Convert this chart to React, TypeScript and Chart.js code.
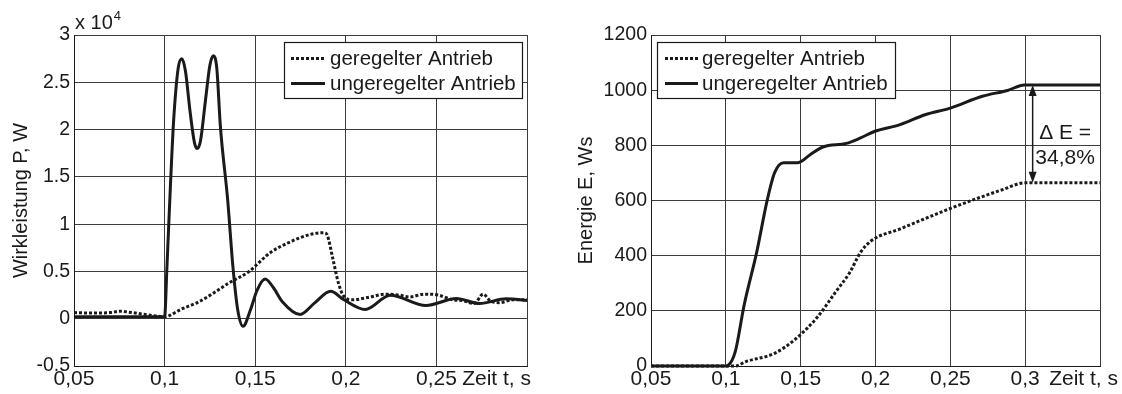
import React, { useEffect, useRef } from "react";
import { Chart, registerables } from "chart.js";

Chart.register(...registerables);

const FONT = '"Liberation Sans", Arial, Helvetica, sans-serif';
const INK = "#1a1a1a";
const GRID = "#3c3c3c";
const X_TICK_SIZE = 21;
const Y_TICK_SIZE = 19.5;
const NOTE_SIZE = 21;

// ---------- Data: left chart (Wirkleistung, x 10^4 W) ----------
const powerTimeRegulated = [0.05, 0.06, 0.07, 0.0756, 0.08, 0.0875, 0.095, 0.1, 0.1022, 0.1091, 0.118, 0.1269, 0.1348, 0.1466, 0.1584, 0.1702, 0.1801, 0.188, 0.1896, 0.1929, 0.1959, 0.1988, 0.2037, 0.2136, 0.2215, 0.2294, 0.2353, 0.2432, 0.2511, 0.259, 0.2649, 0.2708, 0.2758, 0.2797, 0.2846, 0.2925, 0.3];
const powerRegulated = [0.065, 0.06, 0.065, 0.08, 0.07, 0.05, 0.03, 0.02, 0.03, 0.1, 0.17, 0.27, 0.37, 0.5, 0.7, 0.82, 0.89, 0.91, 0.89, 0.63, 0.38, 0.24, 0.2, 0.23, 0.26, 0.25, 0.23, 0.26, 0.25, 0.2, 0.19, 0.16, 0.26, 0.19, 0.17, 0.2, 0.2];

const powerTimeUnregulated = [0.05, 0.07, 0.09, 0.1, 0.1013, 0.1032, 0.105, 0.1075, 0.1095, 0.1115, 0.114, 0.1165, 0.118, 0.1198, 0.1225, 0.125, 0.1269, 0.1288, 0.1308, 0.1348, 0.1377, 0.1403, 0.1433, 0.1475, 0.151, 0.1555, 0.16, 0.165, 0.1748, 0.183, 0.1916, 0.199, 0.2107, 0.2245, 0.2442, 0.261, 0.2738, 0.2886, 0.3];
const powerUnregulated = [0.02, 0.02, 0.02, 0.02, 0.55, 1.4, 2.1, 2.65, 2.75, 2.62, 2.2, 1.86, 1.8, 1.88, 2.3, 2.68, 2.78, 2.65, 2.03, 1.26, 0.55, 0.1, -0.08, 0.1, 0.3, 0.42, 0.33, 0.18, 0.045, 0.17, 0.29, 0.2, 0.098, 0.249, 0.14, 0.214, 0.161, 0.21, 0.193];

// ---------- Data: right chart (Energie, Ws) ----------
const energyTimeRegulated = [0.05, 0.1, 0.1063, 0.1134, 0.1326, 0.147, 0.1613, 0.1733, 0.1829, 0.19, 0.1972, 0.2164, 0.2499, 0.2667, 0.2858, 0.2995, 0.35];
const energyRegulated = [0, 0, 0, 16, 46, 100, 178, 268, 340, 412, 454, 497, 571, 605, 641, 664, 664];

const energyTimeUnregulated = [0.05, 0.08, 0.1, 0.1015, 0.1063, 0.1122, 0.1206, 0.1278, 0.1326, 0.1386, 0.1482, 0.1565, 0.1649, 0.1805, 0.19, 0.1996, 0.2164, 0.2331, 0.2499, 0.2714, 0.2882, 0.2995, 0.35];
const energyUnregulated = [0, 0, 0, 2, 52, 220, 412, 605, 701, 737, 737, 767, 794, 807, 827, 851, 875, 911, 935, 978, 999, 1019, 1019];

// ---------- Labels & ticks ----------
const seriesLabels = ["geregelter Antrieb", "ungeregelter Antrieb"];
const xUnitLabel = "Zeit t, s";
const powerAxisTitle = "Wirkleistung P, W";
const energyAxisTitle = "Energie E, Ws";
const powerExponent = ["x 10", "4"];

const powerXTicks = [0.05, 0.1, 0.15, 0.2, 0.25, 0.3];
const powerXTickLabels = ["0,05", "0,1", "0,15", "0,2", "0,25", ""];
const powerYTicks = [-0.5, 0, 0.5, 1, 1.5, 2, 2.5, 3];
const powerYTickLabels = ["-0.5", "0", "0.5", "1", "1.5", "2", "2.5", "3"];

const energyXTicks = [0.05, 0.1, 0.15, 0.2, 0.25, 0.3, 0.35];
const energyXTickLabels = ["0,05", "0,1", "0,15", "0,2", "0,25", "0,3", ""];
const energyYTicks = [0, 200, 400, 600, 800, 1000, 1200];
const energyYTickLabels = ["0", "200", "400", "600", "800", "1000", "1200"];

const deltaLabels = ["\u0394 E =", "34,8%"];
const deltaArrowTime = 0.305;
const deltaLabelTime = 0.3267;
const deltaLabelEnergy = [845, 754];

const zip = (xs: number[], ys: number[]) => xs.map((x, i) => ({ x, y: ys[i] }));

const decorPlugin = {
  id: "decor",
  afterDatasetsDraw(chart: any, _args: any, opts: any) {
    const { ctx, chartArea: ca } = chart;
    const xs = chart.scales.x;
    const ys = chart.scales.y;
    ctx.save();

    // Delta-E annotation
    if (opts.delta) {
      const px = xs.getPixelForValue(opts.delta.t);
      const yTop = ys.getPixelForValue(opts.delta.top);
      const yBot = ys.getPixelForValue(opts.delta.bottom);
      const hl = 11;
      const hw = 4;
      ctx.strokeStyle = INK;
      ctx.fillStyle = INK;
      ctx.lineWidth = 1.5;
      ctx.setLineDash([]);
      ctx.beginPath();
      ctx.moveTo(px, yTop + hl - 2);
      ctx.lineTo(px, yBot - hl + 2);
      ctx.stroke();
      ctx.beginPath();
      ctx.moveTo(px, yTop);
      ctx.lineTo(px - hw, yTop + hl);
      ctx.lineTo(px + hw, yTop + hl);
      ctx.closePath();
      ctx.fill();
      ctx.beginPath();
      ctx.moveTo(px, yBot);
      ctx.lineTo(px - hw, yBot - hl);
      ctx.lineTo(px + hw, yBot - hl);
      ctx.closePath();
      ctx.fill();
      ctx.font = `${NOTE_SIZE}px ${FONT}`;
      ctx.textAlign = "center";
      ctx.textBaseline = "middle";
      const lx = xs.getPixelForValue(opts.delta.labelT);
      opts.delta.labels.forEach((t: string, i: number) => {
        ctx.fillText(t, lx, ys.getPixelForValue(opts.delta.labelE[i]));
      });
    }

    // Legend box
    const L = opts.legend;
    if (L) {
      ctx.fillStyle = "#fff";
      ctx.fillRect(L.x, L.y, L.w, L.h);
      ctx.strokeStyle = INK;
      ctx.lineWidth = 1.2;
      ctx.setLineDash([]);
      ctx.strokeRect(L.x + 0.5, L.y + 0.5, L.w, L.h);
      chart.data.datasets.forEach((ds: any, i: number) => {
        const y = L.y + L.row0 + i * L.rowGap;
        ctx.beginPath();
        ctx.setLineDash(ds.borderDash || []);
        ctx.lineWidth = ds.borderWidth;
        ctx.strokeStyle = ds.borderColor;
        ctx.lineCap = "butt";
        ctx.moveTo(L.x + L.sampleX, y);
        ctx.lineTo(L.x + L.sampleX + L.sampleW, y);
        ctx.stroke();
        ctx.setLineDash([]);
        ctx.fillStyle = INK;
        ctx.font = `${L.fontSize}px ${FONT}`;
        ctx.textAlign = "left";
        ctx.textBaseline = "middle";
        ctx.fillText(ds.label, L.x + L.textX, y + 1);
      });
    }

    // x-axis unit label
    if (opts.xUnit) {
      ctx.fillStyle = INK;
      ctx.font = `${X_TICK_SIZE}px ${FONT}`;
      ctx.textAlign = "right";
      ctx.textBaseline = "alphabetic";
      ctx.fillText(opts.xUnit.text, ca.right + opts.xUnit.dx, ca.bottom + opts.xUnit.dy);
    }

    // exponent label
    if (opts.exponent) {
      ctx.fillStyle = INK;
      ctx.textAlign = "left";
      ctx.textBaseline = "alphabetic";
      ctx.font = `20px ${FONT}`;
      const base = opts.exponent.text[0];
      const bx = ca.left + 1;
      const by = ca.top - 6;
      ctx.fillText(base, bx, by);
      const w = ctx.measureText(base).width;
      ctx.font = `13px ${FONT}`;
      ctx.fillText(opts.exponent.text[1], bx + w + 1, by - 9);
    }
    ctx.restore();
  },
};

function axisX(ticks: number[], labels: string[], min: number, max: number) {
  return {
    type: "linear",
    min,
    max,
    afterBuildTicks: (s: any) => {
      s.ticks = ticks.map((v) => ({ value: v }));
    },
    afterFit: (s: any) => {
      s.height = 28;
    },
    grid: { color: GRID, lineWidth: 1, drawTicks: false },
    border: { color: INK, width: 1 },
    ticks: {
      autoSkip: false,
      maxRotation: 0,
      minRotation: 0,
      padding: 1,
      color: INK,
      font: { family: FONT, size: X_TICK_SIZE },
      callback: (_v: any, i: number) => labels[i],
    },
  };
}

function axisY(ticks: number[], labels: string[], min: number, max: number, title: string, titlePad: number, width: number) {
  return {
    type: "linear",
    min,
    max,
    afterBuildTicks: (s: any) => {
      s.ticks = ticks.map((v) => ({ value: v }));
    },
    afterFit: (s: any) => {
      s.width = width;
    },
    grid: { color: GRID, lineWidth: 1, drawTicks: false },
    border: { color: INK, width: 1 },
    ticks: {
      autoSkip: false,
      padding: 4,
      color: INK,
      font: { family: FONT, size: Y_TICK_SIZE },
      callback: (_v: any, i: number) => labels[i],
    },
    title: {
      display: true,
      text: title,
      color: INK,
      font: { family: FONT, size: 20 },
      padding: { top: titlePad, bottom: 0 },
    },
  };
}

function lineDataset(label: string, data: any[], dashed: boolean) {
  return {
    label,
    data,
    borderColor: INK,
    backgroundColor: INK,
    borderWidth: 3,
    borderDash: dashed ? [3, 2] : [],
    pointRadius: 0,
    fill: false,
    cubicInterpolationMode: "monotone",
    clip: 6,
  };
}

function powerConfig(): any {
  return {
    type: "line",
    data: {
      datasets: [
        lineDataset(seriesLabels[0], zip(powerTimeRegulated, powerRegulated), true),
        lineDataset(seriesLabels[1], zip(powerTimeUnregulated, powerUnregulated), false),
      ],
    },
    plugins: [decorPlugin],
    options: {
      responsive: false,
      maintainAspectRatio: false,
      animation: false,
      devicePixelRatio: 1,
      layout: { padding: { left: 0, right: 34, top: 35, bottom: 0 } },
      scales: {
        x: axisX(powerXTicks, powerXTickLabels, 0.05, 0.3),
        y: axisY(powerYTicks, powerYTickLabels, -0.5, 3, powerAxisTitle, 9, 74),
      },
      plugins: {
        legend: { display: false },
        tooltip: { enabled: false },
        decor: {
          legend: { x: 284, y: 42, w: 238, h: 56, row0: 16.5, rowGap: 25, sampleX: 7, sampleW: 34, textX: 46, fontSize: 20.5 },
          xUnit: { text: xUnitLabel, dx: 4, dy: 19 },
          exponent: { text: powerExponent },
        },
      },
    },
  };
}

function energyConfig(): any {
  return {
    type: "line",
    data: {
      datasets: [
        lineDataset(seriesLabels[0], zip(energyTimeRegulated, energyRegulated), true),
        lineDataset(seriesLabels[1], zip(energyTimeUnregulated, energyUnregulated), false),
      ],
    },
    plugins: [decorPlugin],
    options: {
      responsive: false,
      maintainAspectRatio: false,
      animation: false,
      devicePixelRatio: 1,
      layout: { padding: { left: 0, right: 22, top: 35, bottom: 0 } },
      scales: {
        x: axisX(energyXTicks, energyXTickLabels, 0.05, 0.35),
        y: axisY(energyYTicks, energyYTickLabels, 0, 1200, energyAxisTitle, 13, 90),
      },
      plugins: {
        legend: { display: false },
        tooltip: { enabled: false },
        decor: {
          legend: { x: 96, y: 42, w: 238, h: 56, row0: 16.5, rowGap: 25, sampleX: 8, sampleW: 33, textX: 45, fontSize: 20.5 },
          xUnit: { text: xUnitLabel, dx: 18, dy: 19 },
          delta: {
            t: deltaArrowTime,
            top: energyUnregulated[energyUnregulated.length - 1],
            bottom: energyRegulated[energyRegulated.length - 1],
            labelT: deltaLabelTime,
            labelE: deltaLabelEnergy,
            labels: deltaLabels,
          },
        },
      },
    },
  };
}

export default function App() {
  const leftRef = useRef<HTMLCanvasElement | null>(null);
  const rightRef = useRef<HTMLCanvasElement | null>(null);

  useEffect(() => {
    const c1 = new Chart(leftRef.current as HTMLCanvasElement, powerConfig());
    const c2 = new Chart(rightRef.current as HTMLCanvasElement, energyConfig());
    return () => {
      c1.destroy();
      c2.destroy();
    };
  }, []);

  return (
    <div style={{ position: "fixed", left: 0, top: 0, width: 1122, height: 394, background: "#fff" }}>
      <canvas
        ref={leftRef}
        width={561}
        height={394}
        style={{ position: "absolute", left: 0, top: 0, width: 561, height: 394 }}
      />
      <canvas
        ref={rightRef}
        width={561}
        height={394}
        style={{ position: "absolute", left: 561, top: 0, width: 561, height: 394 }}
      />
    </div>
  );
}
